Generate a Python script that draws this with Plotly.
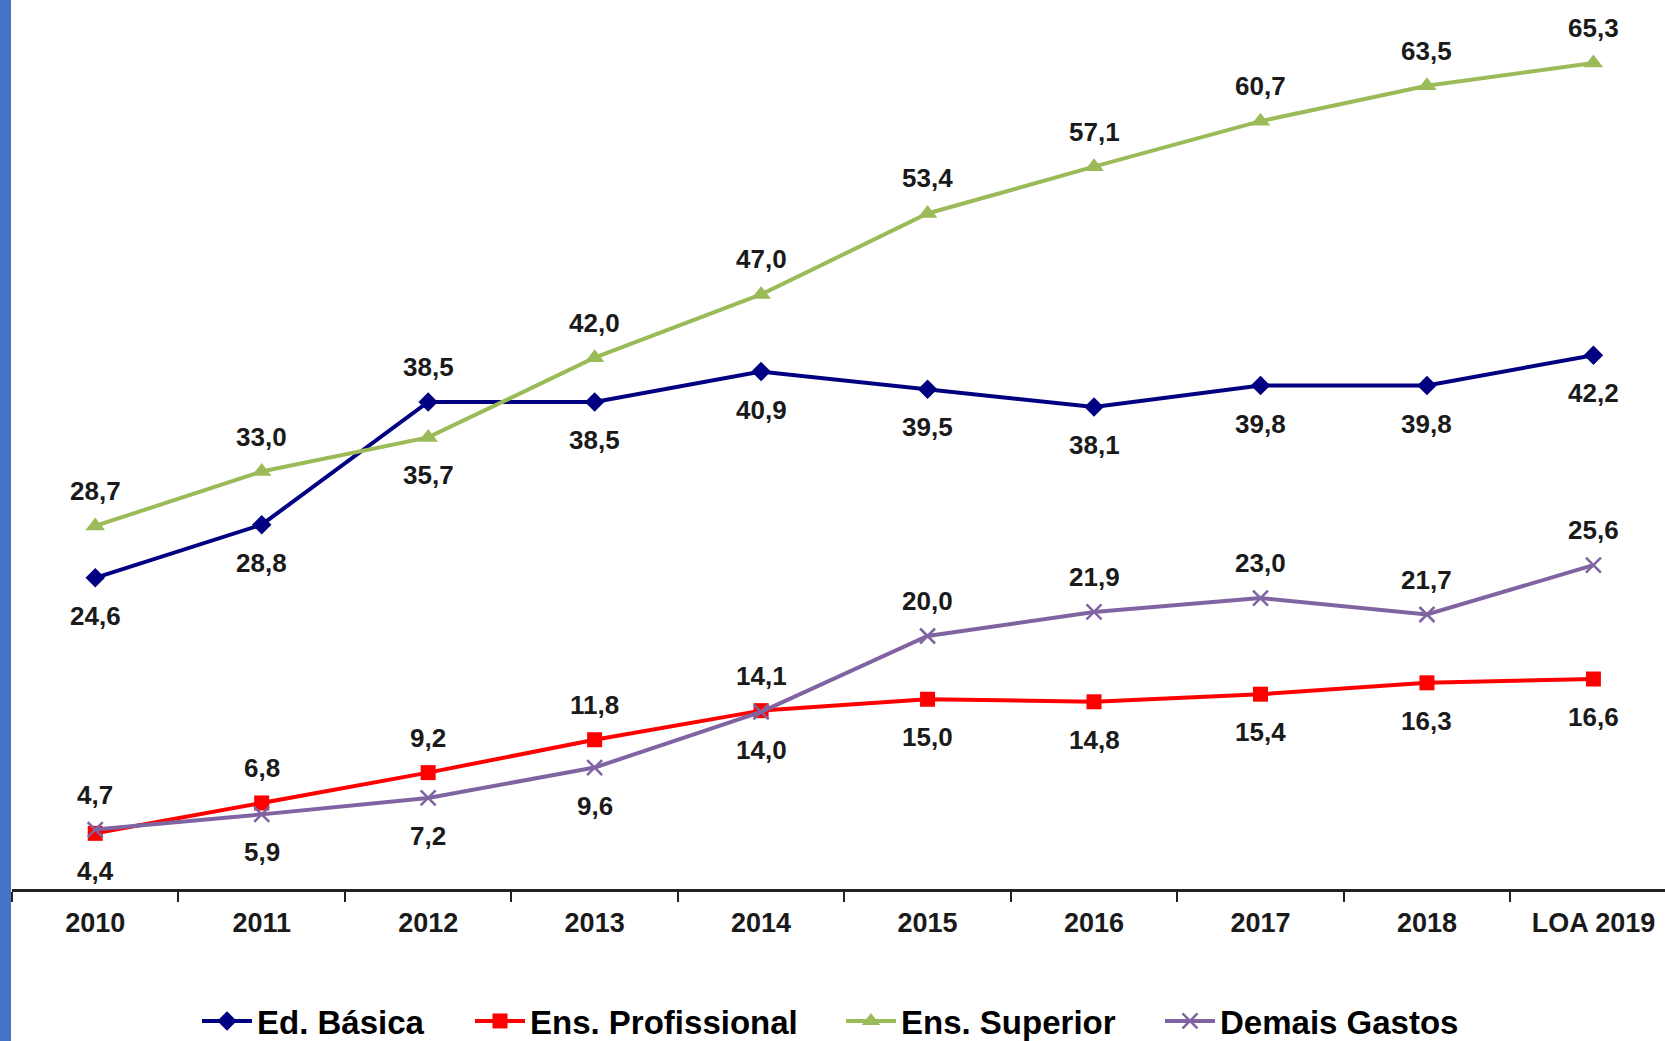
import plotly.graph_objects as go

categories = ["2010", "2011", "2012", "2013", "2014", "2015", "2016", "2017", "2018", "LOA 2019"]
ed_basica = [24.6, 28.8, 38.5, 38.5, 40.9, 39.5, 38.1, 39.8, 39.8, 42.2]
ens_profissional = [4.4, 6.8, 9.2, 11.8, 14.1, 15.0, 14.8, 15.4, 16.3, 16.6]
ens_superior = [28.7, 33.0, 35.7, 42.0, 47.0, 53.4, 57.1, 60.7, 63.5, 65.3]
demais_gastos = [4.7, 5.9, 7.2, 9.6, 14.0, 20.0, 21.9, 23.0, 21.7, 25.6]

# label placement (style): 1 = above, -1 = below
pos_basica = [-1, -1, 1, -1, -1, -1, -1, -1, -1, -1]
pos_prof = [-1, 1, 1, 1, 1, -1, -1, -1, -1, -1]
pos_sup = [1, 1, -1, 1, 1, 1, 1, 1, 1, 1]
pos_demais = [1, -1, -1, -1, -1, 1, 1, 1, 1, 1]

FONT = "Liberation Sans, Arial, sans-serif"
TXT = "#1a1a1a"

H = 1041
W = 1665
ml, mb = 12, 152
plot_h = H - mb
plot_w = W - ml

# legend entry left edges in pixels (layout)
legend_px = [197, 470, 841, 1160]

series = [
    ("Ed. Básica", ed_basica, pos_basica, "#000080", "diamond", 15),
    ("Ens. Profissional", ens_profissional, pos_prof, "#FF0000", "square", 15),
    ("Ens. Superior", ens_superior, pos_sup, "#9BBB59", "triangle-up", 17),
    ("Demais Gastos", demais_gastos, pos_demais, "#8064A2", "x-thin", 15),
]

fig = go.Figure()
annotations = []
legend_defs = {}
for k, (name, vals, pos, color, sym, msize) in enumerate(series):
    mk = dict(symbol=sym, size=msize, color=color)
    if sym == "x-thin":
        mk["line"] = dict(color=color, width=2.5)
    lname = "legend" if k == 0 else f"legend{k+1}"
    fig.add_trace(go.Scatter(
        x=categories, y=vals, name=name, mode="lines+markers",
        line=dict(color=color, width=4), marker=mk, cliponaxis=False,
        legend=lname,
    ))
    legend_defs[lname] = dict(
        orientation="h", x=(legend_px[k] - ml) / plot_w, xanchor="left",
        yref="container", y=(H - 1021) / H, yanchor="middle",
        font=dict(family=FONT, size=33, color="#000000", weight="bold"),
        itemwidth=50, bgcolor="rgba(0,0,0,0)",
    )
    for i, (v, p) in enumerate(zip(vals, pos)):
        annotations.append(dict(
            x=i, y=v, text=f"{v:.1f}".replace(".", ","), showarrow=False,
            yshift=35 if p > 0 else -38,
            font=dict(family=FONT, size=26, color=TXT, weight="bold"),
        ))

fig.update_layout(
    width=W, height=H,
    margin=dict(l=ml, r=0, t=0, b=mb),
    paper_bgcolor="white", plot_bgcolor="white",
    annotations=annotations,
    showlegend=True,
    shapes=[dict(
        type="rect", xref="paper", yref="paper",
        x0=-ml / plot_w, x1=-1 / plot_w, y0=-mb / plot_h, y1=1,
        fillcolor="#4472C4", line=dict(width=0), layer="above",
    )],
    **legend_defs,
)
fig.update_xaxes(
    type="category", range=[-0.5, 9.43], automargin=False,
    showline=True, linecolor="#222222", linewidth=2.5,
    ticks="outside", tickson="boundaries", ticklen=10, tickwidth=2, tickcolor="#222222",
    tickfont=dict(family=FONT, size=27, color=TXT, weight="bold"),
    ticklabelstandoff=8,
    showgrid=False, zeroline=False,
)
fig.update_yaxes(
    range=[0, plot_h / 12.65], visible=False, showgrid=False, zeroline=False,
    automargin=False,
)

fig.write_html("out.html", config={"displayModeBar": False},
               post_script="document.body.style.margin='0';")
